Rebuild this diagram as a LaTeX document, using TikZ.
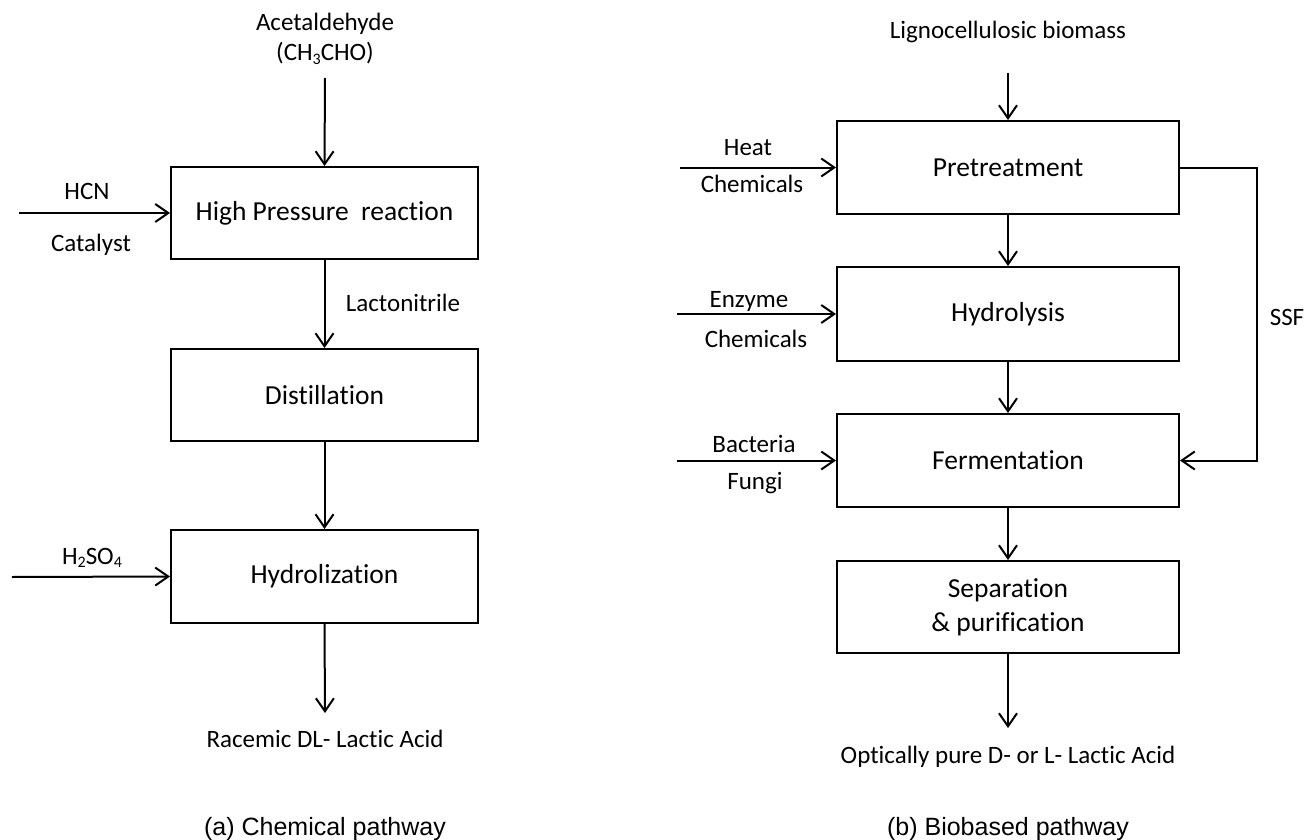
\documentclass[tikz,border=0pt]{standalone}
\usepackage{fontspec}
\setmainfont{Carlito}[Ligatures=NoCommon]
\newfontfamily\capfont{Liberation Sans}
\usetikzlibrary{arrows.meta}
\newcommand\chemsub[1]{\raisebox{-0.3ex}{\fontsize{16}{16}\selectfont #1}}
\tikzset{
  stage/.style={draw, line width=2pt, rectangle, inner sep=2pt, align=center,
    font=\fontsize{27.5}{34}\selectfont},
  lab/.style={inner sep=0pt, anchor=base, font=\fontsize{25}{28}\selectfont},
  subcap/.style={inner sep=0pt, anchor=base, font=\capfont\fontsize{25}{30}\selectfont},
  flow/.style={line width=2pt, -{Straight Barb[length=13pt,width=18pt,line width=2pt]}},
}
\begin{document}
\begin{tikzpicture}[x=1pt,y=-1pt]
\useasboundingbox (0,0) rectangle (1309,840);

% ---- (a) chemical route ----
\node[stage, minimum width=307pt, minimum height=92pt] (hpr) at (324.5,213) {High Pressure\ \ reaction};
\node[stage, minimum width=307pt, minimum height=92pt] (dist) at (324.5,395) {Distillation};
\node[stage, minimum width=307pt, minimum height=93pt] (hydz) at (324.5,576.5) {Hydrolization};

\node[lab] (acet) at (325,31) {Acetaldehyde};
\node[lab] (acetf) at (325,61) {(CH\chemsub{3}CHO)};
\coordinate (acetin) at (325,78);
\draw[flow] (acetin) -- (hpr.north);

\coordinate (hcnin) at (19,213);
\node[lab] (hcn) at (87,199) {HCN};
\node[lab] (cat) at (91,251) {Catalyst};
\draw[flow] (hcnin) -- (hpr.west);

\draw[flow] (hpr.south) -- (dist.north);
\node[lab] (lacto) at (403,311) {Lactonitrile};

\draw[flow] (dist.south) -- (hydz.north);

\coordinate (acidin) at (12,577);
\node[lab] (acid) at (92,564) {H\chemsub{2}SO\chemsub{4}};
\draw[flow] (acidin) -- (hydz.west);

\coordinate (racout) at (325,713);
\draw[flow] (hydz.south) -- (racout);
\node[lab] (rac) at (325,747) {Racemic DL- Lactic Acid};

\node[subcap] (capa) at (325,835) {(a) Chemical pathway};

% ---- (b) biobased route ----
\node[stage, minimum width=342pt, minimum height=93pt] (pre) at (1008,167.5) {Pretreatment};
\node[stage, minimum width=342pt, minimum height=94pt] (hys) at (1008,314) {Hydrolysis};
\node[stage, minimum width=342pt, minimum height=93pt] (fer) at (1008,460.5) {Fermentation};
\node[stage, minimum width=342pt, minimum height=92pt] (sep) at (1008,607) {Separation\\\& purification};

\node[lab] (ligno) at (1008,39) {Lignocellulosic biomass};
\coordinate (lignoin) at (1008,73);
\draw[flow] (lignoin) -- (pre.north);

\coordinate (heatin) at (680,167.5);
\node[lab] (heat) at (748,155) {Heat};
\node[lab] (chem1) at (752,193) {Chemicals};
\draw[flow] (heatin) -- (pre.west);

\draw[flow] (pre.south) -- (hys.north);

\coordinate (enzin) at (677,314);
\node[lab] (enz) at (749,307) {Enzyme};
\node[lab] (chem2) at (756,347) {Chemicals};
\draw[flow] (enzin) -- (hys.west);

\draw[flow] (hys.south) -- (fer.north);

\coordinate (bacin) at (677,460.5);
\node[lab] (bac) at (754,452) {Bacteria};
\node[lab] (fun) at (755,489) {Fungi};
\draw[flow] (bacin) -- (fer.west);

\coordinate (ssftop) at (1257,167.5);
\draw[flow] (pre.east) -- (ssftop) |- (fer.east);
\node[lab] (ssf) at (1287,325) {SSF};

\draw[flow] (fer.south) -- (sep.north);

\coordinate (optout) at (1008,728);
\draw[flow] (sep.south) -- (optout);
\node[lab] (opt) at (1008,763) {Optically pure D- or L- Lactic Acid};

\node[subcap] (capb) at (1008,835) {(b) Biobased pathway};
\end{tikzpicture}
\end{document}
